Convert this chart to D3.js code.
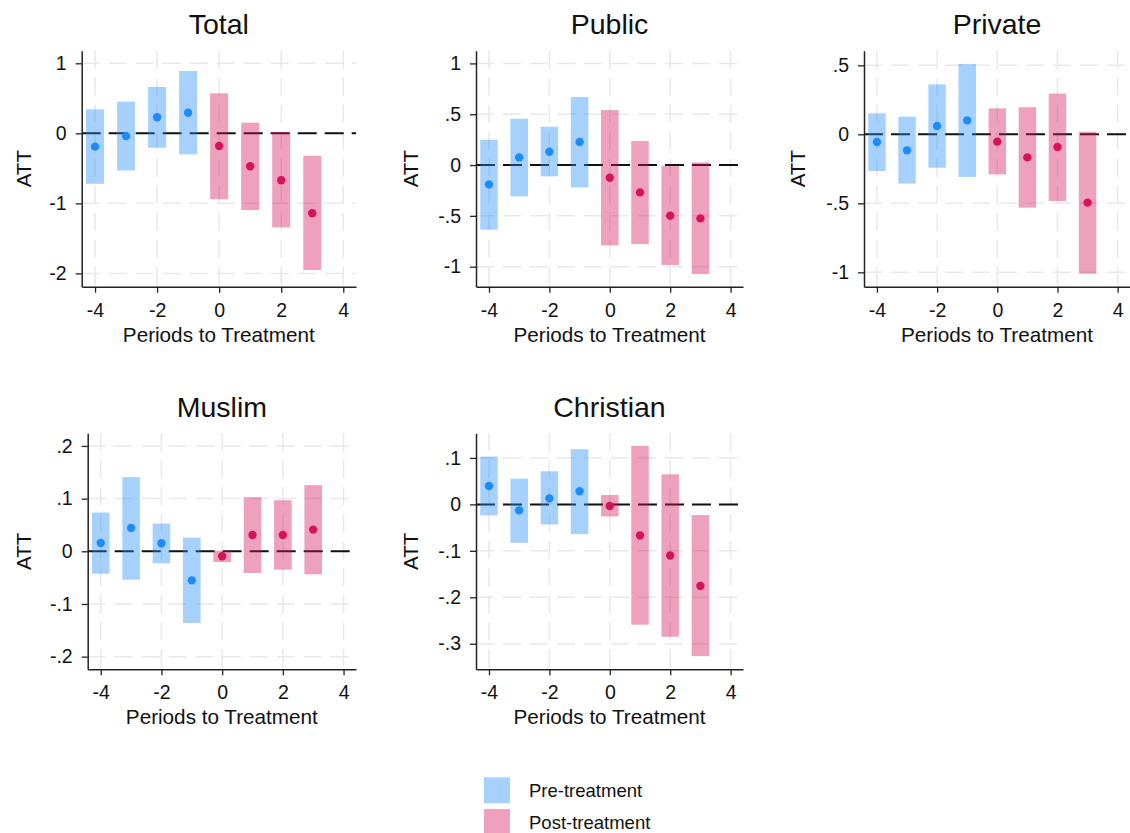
<!DOCTYPE html>
<html>
<head>
<meta charset="utf-8">
<script src="https://cdn.jsdelivr.net/npm/d3@7"></script>
<style>
  html, body { margin: 0; padding: 0; background: #fff; }
  svg { display: block; }
</style>
</head>
<body>
<div id="chart"></div>
<script>
// ---------------- DATA ----------------
const periods = [-4, -3, -2, -1, 0, 1, 2, 3];
const xTicks = [-4, -2, 0, 2, 4];

const totalEst = [-0.19, -0.04, 0.23, 0.295, -0.18, -0.47, -0.67, -1.14];
const totalLo  = [-0.72, -0.53, -0.205, -0.30, -0.94, -1.095, -1.343, -1.952];
const totalHi  = [0.343, 0.452, 0.662, 0.89, 0.571, 0.152, 0.019, -0.319];

const publicEst = [-0.19, 0.075, 0.131, 0.226, -0.125, -0.269, -0.498, -0.525];
const publicLo  = [-0.636, -0.308, -0.111, -0.22, -0.79, -0.777, -0.984, -1.072];
const publicHi  = [0.249, 0.456, 0.377, 0.669, 0.541, 0.236, -0.007, 0.026];

const privateEst = [-0.056, -0.116, 0.06, 0.101, -0.053, -0.167, -0.092, -0.495];
const privateLo  = [-0.266, -0.357, -0.242, -0.309, -0.29, -0.531, -0.483, -1.01];
const privateHi  = [0.152, 0.128, 0.362, 0.51, 0.188, 0.196, 0.295, 0.019];

const muslimEst = [0.0158, 0.0444, 0.0152, -0.0551, -0.0095, 0.031, 0.031, 0.0412];
const muslimLo  = [-0.0425, -0.0539, -0.0228, -0.1362, -0.0203, -0.0412, -0.0349, -0.0437];
const muslimHi  = [0.0735, 0.1407, 0.0526, 0.026, 0.001, 0.1027, 0.097, 0.1255];

const christianEst = [0.0396, -0.0129, 0.0129, 0.0281, -0.0036, -0.0669, -0.1101, -0.1755];
const christianLo  = [-0.0237, -0.0827, -0.0432, -0.064, -0.0259, -0.259, -0.2849, -0.3266];
const christianHi  = [0.1029, 0.0554, 0.0712, 0.1187, 0.0201, 0.1259, 0.0647, -0.023];

const panelTitles = ["Total", "Public", "Private", "Muslim", "Christian"];
const yTickSets = [
  [-2, -1, 0, 1],
  [-1, -0.5, 0, 0.5, 1],
  [-1, -0.5, 0, 0.5],
  [-0.2, -0.1, 0, 0.1, 0.2],
  [-0.3, -0.2, -0.1, 0, 0.1]
];
const yDomains = [
  [-2.19, 1.18],
  [-1.197, 1.125],
  [-1.104, 0.606],
  [-0.224, 0.224],
  [-0.355, 0.153]
];
const legendLabels = ["Pre-treatment", "Post-treatment"];
const xTitle = "Periods to Treatment";
const yTitle = "ATT";

// ---------------- STYLE / LAYOUT ----------------
const W = 1130, H = 833;
const FONT = "'Liberation Sans', Arial, Helvetica, sans-serif";
const preColor = "#1e8cf8";
const postColor = "#d5135a";
const barOpacity = 0.4;
const barWidth = 0.58;

const colOffsets = [0, 387, 774];
const rowOffsets = [0, 382.6];
const panelPos = [[0, 0], [0, 1], [0, 2], [1, 0], [1, 1]]; // row, col
const leftMargins = [81.7, 89, 90, 87.7, 89];
const plotRightInCol = 356;
const plotTop = 50.7, plotBottom = 286.7;
const xDomain = [-4.43, 4.41];

const panels = [
  { est: totalEst, lo: totalLo, hi: totalHi },
  { est: publicEst, lo: publicLo, hi: publicHi },
  { est: privateEst, lo: privateLo, hi: privateHi },
  { est: muslimEst, lo: muslimLo, hi: muslimHi },
  { est: christianEst, lo: christianLo, hi: christianHi }
];

function stataFmt(v) {
  const s = String(+(+v).toFixed(4));
  return s.replace(/^(-?)0\./, "$1.");
}

const svg = d3.select("#chart").append("svg")
  .attr("width", W).attr("height", H)
  .attr("viewBox", `0 0 ${W} ${H}`)
  .style("font-family", FONT);

svg.append("rect").attr("width", W).attr("height", H).attr("fill", "#fff");

panels.forEach((p, i) => {
  const [r, c] = panelPos[i];
  const ox = colOffsets[c], oy = rowOffsets[r];
  const left = ox + leftMargins[i];
  const right = ox + plotRightInCol;
  const top = oy + plotTop, bottom = oy + plotBottom;

  const x = d3.scaleLinear().domain(xDomain).range([left, right]);
  const y = d3.scaleLinear().domain(yDomains[i]).range([bottom, top]);

  const g = svg.append("g");

  // grid
  g.append("g").selectAll("line.hg").data(yTickSets[i]).join("line")
    .attr("x1", left).attr("x2", right)
    .attr("y1", d => y(d)).attr("y2", d => y(d))
    .attr("stroke", "#e8e8e8").attr("stroke-width", 1.5)
    .attr("stroke-dasharray", "18,9");
  g.append("g").selectAll("line.vg").data(xTicks).join("line")
    .attr("x1", d => x(d)).attr("x2", d => x(d))
    .attr("y1", top).attr("y2", bottom)
    .attr("stroke", "#e8e8e8").attr("stroke-width", 1.5)
    .attr("stroke-dasharray", "18,9");

  // zero line
  g.append("line")
    .attr("x1", left).attr("x2", right)
    .attr("y1", y(0)).attr("y2", y(0))
    .attr("stroke", "#111").attr("stroke-width", 2)
    .attr("stroke-dasharray", "19,8");

  const rows = periods.map((t, k) => ({ t, est: p.est[k], lo: p.lo[k], hi: p.hi[k] }));
  const col = d => d.t < 0 ? preColor : postColor;

  // bars
  g.append("g").selectAll("rect").data(rows).join("rect")
    .attr("x", d => x(d.t - barWidth / 2))
    .attr("width", d => x(d.t + barWidth / 2) - x(d.t - barWidth / 2))
    .attr("y", d => y(d.hi))
    .attr("height", d => y(d.lo) - y(d.hi))
    .attr("fill", col)
    .attr("fill-opacity", barOpacity);

  // points
  g.append("g").selectAll("circle").data(rows).join("circle")
    .attr("cx", d => x(d.t)).attr("cy", d => y(d.est))
    .attr("r", 4.2)
    .attr("fill", col);

  // axes
  const yAxis = d3.axisLeft(y).tickValues(yTickSets[i]).tickFormat(stataFmt)
    .tickSize(6).tickSizeOuter(0).tickPadding(9);
  const xAxis = d3.axisBottom(x).tickValues(xTicks).tickFormat(stataFmt)
    .tickSize(6).tickSizeOuter(0).tickPadding(10);

  const ya = g.append("g").attr("transform", `translate(${left},0)`).call(yAxis);
  const xa = g.append("g").attr("transform", `translate(0,${bottom})`).call(xAxis);
  [ya, xa].forEach(a => {
    a.select(".domain").attr("stroke", "#222").attr("stroke-width", 1.5);
    a.selectAll(".tick line").attr("stroke", "#222").attr("stroke-width", 1.3);
    a.selectAll(".tick text").attr("fill", "#111")
      .style("font-size", "19.5px").style("font-family", FONT);
  });

  // titles
  g.append("text")
    .attr("x", (left + right) / 2).attr("y", oy + 34)
    .attr("text-anchor", "middle")
    .style("font-size", "28.5px").attr("fill", "#111")
    .text(panelTitles[i]);

  g.append("text")
    .attr("x", (left + right) / 2).attr("y", oy + 341.5)
    .attr("text-anchor", "middle")
    .style("font-size", "20.7px").attr("fill", "#111")
    .text(xTitle);

  g.append("text")
    .attr("transform", `translate(${ox + 31},${(top + bottom) / 2}) rotate(-90)`)
    .attr("text-anchor", "middle")
    .style("font-size", "20.5px").attr("fill", "#111")
    .text(yTitle);
});

// legend
const legend = svg.append("g");
const legColors = [preColor, postColor];
legendLabels.forEach((lab, k) => {
  const yy = 777.3 + k * 31.8;
  legend.append("rect")
    .attr("x", 484).attr("y", yy).attr("width", 26).attr("height", 26)
    .attr("fill", legColors[k]).attr("fill-opacity", barOpacity);
  legend.append("text")
    .attr("x", 529).attr("y", yy + 13).attr("dy", "0.35em")
    .style("font-size", "18.5px").attr("fill", "#111")
    .text(lab);
});
</script>
</body>
</html>
